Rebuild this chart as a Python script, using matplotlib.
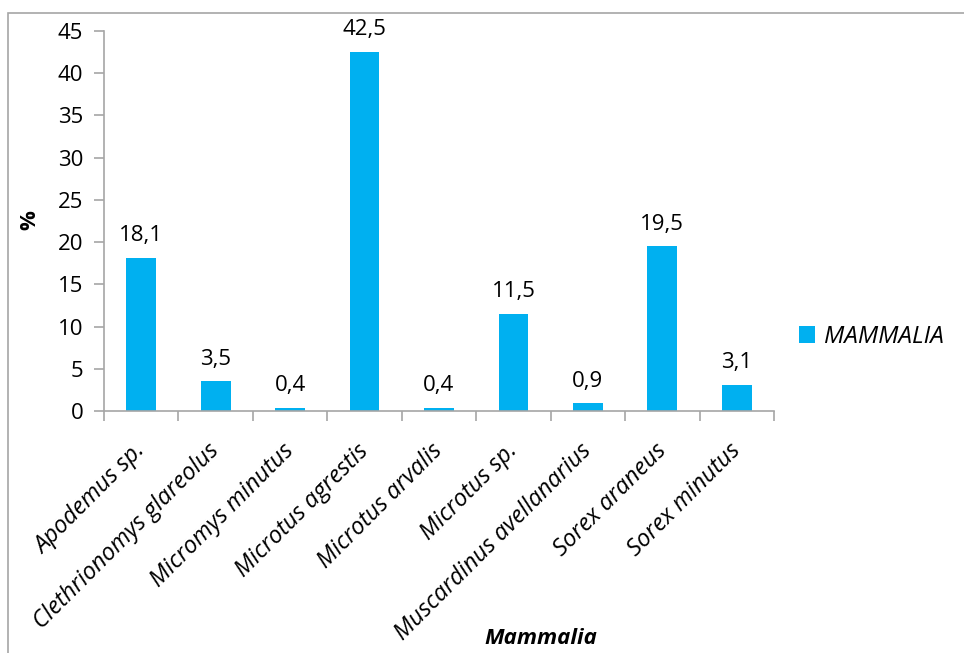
import matplotlib
matplotlib.use("Agg")
import matplotlib.pyplot as plt
from matplotlib.patches import Rectangle
from matplotlib.transforms import ScaledTranslation
import numpy as np

categories = ["Apodemus sp.", "Clethrionomys glareolus", "Micromys minutus",
              "Microtus agrestis", "Microtus arvalis", "Microtus sp.",
              "Muscardinus avellanarius", "Sorex araneus", "Sorex minutus"]
values = [18.1, 3.5, 0.4, 42.5, 0.4, 11.5, 0.9, 19.5, 3.1]
value_labels = ["18,1", "3,5", "0,4", "42,5", "0,4", "11,5", "0,9", "19,5", "3,1"]
yticks = [0, 5, 10, 15, 20, 25, 30, 35, 40, 45]
series_name = "MAMMALIA"

plt.rcParams['font.family'] = ['Open Sans', 'DejaVu Sans']
color = "#00B0F0"
gray = "#A6A6A6"

fig = plt.figure(figsize=(9.64, 6.53), dpi=100)
fig.patches.append(Rectangle((8/964, -0.1), 1.2, 1 - 13/653 + 0.1, transform=fig.transFigure,
                             fill=False, edgecolor=gray, linewidth=1.2))
ax = fig.add_axes([104/964, 1 - 411/653, (774 - 104)/964, (411 - 31)/653])

x = np.arange(len(categories))
bars = ax.bar(x, values, width=0.4, color=color, label=series_name, zorder=2)
for xi, v, lab in zip(x, values, value_labels):
    ax.text(xi, v + 1.4, lab, ha='center', va='bottom', fontsize=16, color='black')

ax.set_xlim(-0.5, len(categories) - 0.5)
ax.set_ylim(0, 45)
ax.set_yticks(yticks)
ax.set_yticklabels([str(t) for t in yticks], fontsize=16)
ax.set_xticks(np.arange(len(categories) + 1) - 0.5, minor=False)
ax.set_xticklabels([])
ax.set_xticks(x, minor=True)
ax.set_xticklabels(categories, minor=True, rotation=45, ha='right', rotation_mode='anchor',
                   fontsize=17, style='italic')
ax.tick_params(axis='x', which='minor', length=0, pad=8)
ax.tick_params(axis='x', which='major', length=7, color=gray, width=1.2)
ax.tick_params(axis='y', length=7, color=gray, width=1.2, pad=8)
shift = ScaledTranslation(-8/100, -17/100, fig.dpi_scale_trans)
for lbl in ax.get_xticklabels(minor=True):
    lbl.set_transform(lbl.get_transform() + shift)
for s in ['top', 'right']:
    ax.spines[s].set_visible(False)
for s in ['left', 'bottom']:
    ax.spines[s].set_color(gray)
    ax.spines[s].set_linewidth(1.2)

fig.text(30/964, 1 - 220/653, "%", rotation=90, ha='center', va='center', fontsize=16, fontweight='bold')
fig.text(541/964, 1 - 639/653, "Mammalia", ha='center', va='center', fontsize=16,
         fontweight='bold', style='italic')

leg = ax.legend(loc='center left', bbox_to_anchor=(777/964, 1 - 337/653), bbox_transform=fig.transFigure,
                frameon=False, prop={'size': 17.5, 'style': 'italic'}, handlelength=0.65, handleheight=0.65,
                handletextpad=0.4)

fig.savefig("out.png", dpi=100)
